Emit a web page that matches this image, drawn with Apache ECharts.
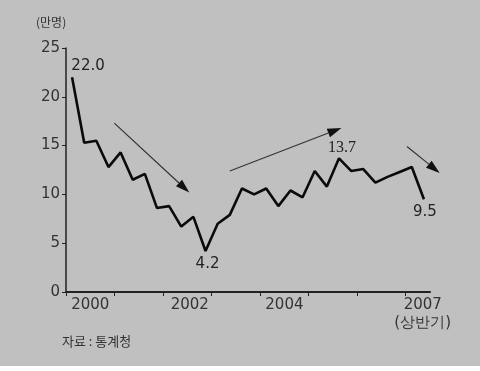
<!DOCTYPE html>
<html>
<head>
<meta charset="utf-8">
<script src="https://cdn.jsdelivr.net/npm/echarts@6/dist/echarts.min.js"></script>
<style>
  html, body { margin: 0; padding: 0; background: #fff; }
  #main { width: 480px; height: 366px; background: #c0c0c0; }
</style>
</head>
<body>
<div id="main"></div>
<script>
// 분기별 값 (2000 1/4 ~ 2007 2/4), 단위: 만명
var values = [
    22.0, 15.3, 15.5, 12.8,
    14.3, 11.5, 12.1, 8.6,
    8.8, 6.7, 7.7, 4.2,
    7.0, 7.9, 10.6, 10.0,
    10.6, 8.8, 10.4, 9.7,
    12.4, 10.8, 13.7, 12.4,
    12.6, 11.2, 11.8, 12.3,
    12.8, 9.5
];
// 눈금(연도 경계, 분기 단위)과 연도 라벨
var yearTicks = [0, 4, 8, 12, 16, 20, 24, 28];
var yearLabelAt = [2, 10.2, 18, 29.4];
var yearLabels = ['2000', '2002', '2004', '2007\n(상반기)'];
// 값 표시할 점
var labelIdx = [0, 11, 22, 29];
var labelText = ['22.0', '4.2', '13.7', '9.5'];
// 추세 화살표 (분기, 만명)
var arrowFrom = [[3.98, 17.3], [13.5, 12.4], [28.1, 14.9]];
var arrowTo = [[10.16, 10.2], [22.7, 16.8], [30.8, 12.2]];

var labelStyle = [
    { position: 'top', offset: [16, 2] },
    { position: 'bottom', offset: [2, 0] },
    { position: 'top', offset: [3, 3], fontFamily: 'Liberation Serif', fontSize: 16 },
    { position: 'bottom', offset: [1, 0] }
];

var lineData = values.map(function (v, i) {
    var item = { value: [i + 0.5, v] };
    var k = labelIdx.indexOf(i);
    if (k >= 0) {
        item.label = Object.assign({
            show: true,
            formatter: labelText[k],
            color: '#222',
            fontFamily: 'DejaVu Sans',
            fontSize: 15,
            distance: 5
        }, labelStyle[k]);
    }
    return item;
});

var myChart = echarts.init(document.getElementById('main'));
var option = {
    animation: false,
    grid: { left: 66, right: 50, top: 48, bottom: 74 },
    xAxis: {
        type: 'value',
        min: 0,
        max: 30,
        splitLine: { show: false },
        axisLine: { lineStyle: { color: '#222', width: 2 } },
        axisTick: {
            customValues: yearTicks,
            length: 4,
            lineStyle: { color: '#222', width: 1 }
        },
        axisLabel: {
            customValues: yearLabelAt,
            margin: 4,
            color: '#333',
            fontFamily: 'DejaVu Sans',
            fontSize: 15,
            lineHeight: 18,
            formatter: function (val) {
                var k = yearLabelAt.indexOf(val);
                return k >= 0 ? yearLabels[k] : '';
            }
        }
    },
    yAxis: {
        type: 'value',
        min: 0,
        max: 25,
        interval: 5,
        splitLine: { show: false },
        axisLine: { show: true, lineStyle: { color: '#222', width: 1.5 } },
        axisTick: { show: true, length: 4, lineStyle: { color: '#222' } },
        axisLabel: {
            margin: 6,
            color: '#333',
            fontFamily: 'DejaVu Sans',
            fontSize: 15
        }
    },
    series: [{
        type: 'line',
        data: lineData,
        symbol: 'circle',
        symbolSize: 1,
        showSymbol: true,
        itemStyle: { color: 'rgba(0,0,0,0)' },
        clip: false,
        lineStyle: { color: '#0a0a0a', width: 2.6 }
    }]
};
myChart.setOption(option);

// 단위, 출처, 화살표
var graphics = [
    {
        type: 'text', left: 36, top: 16,
        style: { text: '(만명)', fill: '#333', font: '12px "Noto Sans CJK KR"' }
    },
    {
        type: 'text', left: 62, top: 335,
        style: { text: '자료 : 통계청', fill: '#333', font: '13px "Noto Sans CJK KR"' }
    }
];
for (var i = 0; i < arrowFrom.length; i++) {
    var p0 = myChart.convertToPixel({ gridIndex: 0 }, arrowFrom[i]);
    var p1 = myChart.convertToPixel({ gridIndex: 0 }, arrowTo[i]);
    var dx = p1[0] - p0[0], dy = p1[1] - p0[1];
    var len = Math.sqrt(dx * dx + dy * dy);
    var ux = dx / len, uy = dy / len;
    var bx = p1[0] - ux * 14, by = p1[1] - uy * 14;
    graphics.push({
        type: 'line',
        shape: { x1: p0[0], y1: p0[1], x2: bx, y2: by },
        style: { stroke: '#333', lineWidth: 1.2 }
    });
    graphics.push({
        type: 'polygon',
        shape: { points: [[p1[0], p1[1]], [bx - uy * 4.5, by + ux * 4.5], [bx + uy * 4.5, by - ux * 4.5]] },
        style: { fill: '#111' }
    });
}
myChart.setOption({ graphic: graphics });
</script>
</body>
</html>
